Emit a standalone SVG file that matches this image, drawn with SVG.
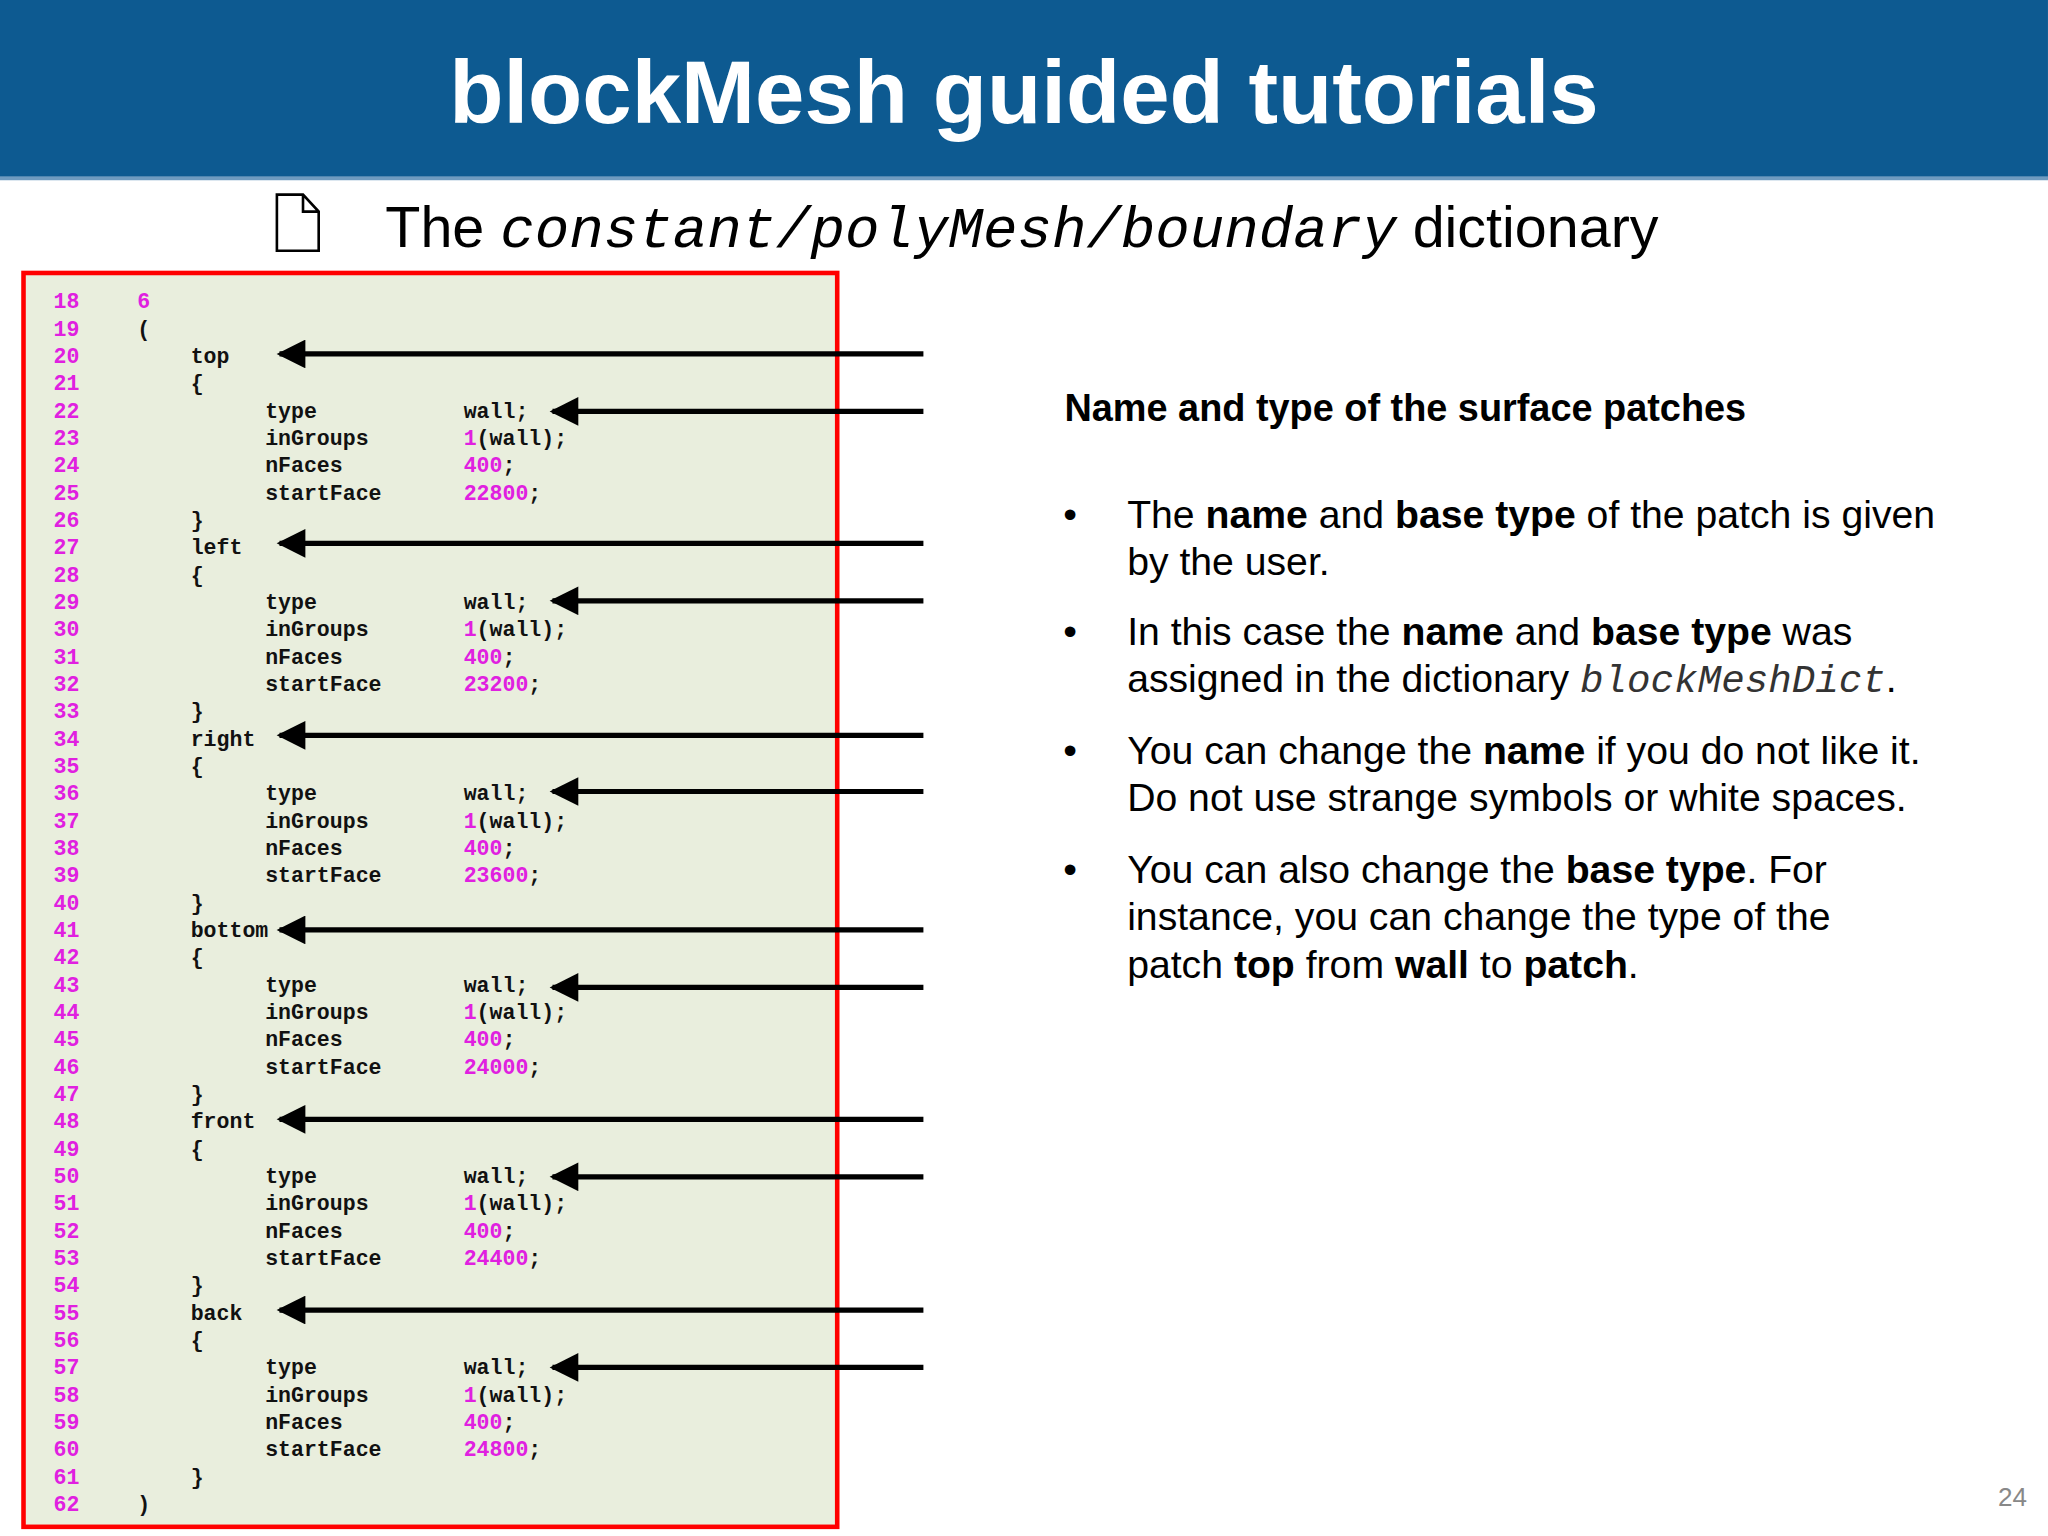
<svg xmlns="http://www.w3.org/2000/svg" width="2048" height="1536" viewBox="0 0 2048 1536">
<defs>
<style>
.c{font-family:"Liberation Mono",monospace;font-weight:bold;font-size:16.5px;fill:#111}
.m{fill:#e020e0}
.t{font-family:"Liberation Sans",Arial,sans-serif;font-size:30px;fill:#000}
.a{stroke:#000;stroke-width:4}
</style>
<marker id="ah" viewBox="0 0 10 10" refX="9" refY="5" markerWidth="6" markerHeight="5.5" orient="auto" markerUnits="strokeWidth"><path d="M0,0 L10,5 L0,10 Z" fill="#000"/></marker>
</defs>
<rect width="2048" height="1536" fill="#fff"/>
<g transform="scale(1.3061)">
<g id="header">
<rect x="0" y="0" width="1568" height="137" fill="#0d5a91"/>
<rect x="0" y="135" width="1568" height="3" fill="#6f9bc0"/>
<text x="784" y="94" text-anchor="middle" font-family="Liberation Sans,Arial,sans-serif" font-weight="bold" font-size="68" fill="#fff">blockMesh guided tutorials</text>
</g>
<g id="subtitle">
<path d="M212,149 H232 L244,162 V192 H212 Z M232,149 V162 H244" fill="none" stroke="#000" stroke-width="2"/>
<text y="189" font-size="44" font-family="Liberation Sans,Arial,sans-serif"><tspan x="295">The </tspan><tspan font-family="Liberation Mono,monospace" font-style="italic">constant/polyMesh/boundary</tspan><tspan> dictionary</tspan></text>
</g>
<g id="code">
<rect x="18" y="209" width="623" height="960" fill="#e9eedd" stroke="#f00" stroke-width="3.5"/>
<text class="c m" y="236"><tspan x="41">18</tspan><tspan x="41" dy="20.93">19</tspan><tspan x="41" dy="20.93">20</tspan><tspan x="41" dy="20.93">21</tspan><tspan x="41" dy="20.93">22</tspan><tspan x="41" dy="20.93">23</tspan><tspan x="41" dy="20.93">24</tspan><tspan x="41" dy="20.93">25</tspan><tspan x="41" dy="20.93">26</tspan><tspan x="41" dy="20.93">27</tspan><tspan x="41" dy="20.93">28</tspan><tspan x="41" dy="20.93">29</tspan><tspan x="41" dy="20.93">30</tspan><tspan x="41" dy="20.93">31</tspan><tspan x="41" dy="20.93">32</tspan><tspan x="41" dy="20.93">33</tspan><tspan x="41" dy="20.93">34</tspan><tspan x="41" dy="20.93">35</tspan><tspan x="41" dy="20.93">36</tspan><tspan x="41" dy="20.93">37</tspan><tspan x="41" dy="20.93">38</tspan><tspan x="41" dy="20.93">39</tspan><tspan x="41" dy="20.93">40</tspan><tspan x="41" dy="20.93">41</tspan><tspan x="41" dy="20.93">42</tspan><tspan x="41" dy="20.93">43</tspan><tspan x="41" dy="20.93">44</tspan><tspan x="41" dy="20.93">45</tspan><tspan x="41" dy="20.93">46</tspan><tspan x="41" dy="20.93">47</tspan><tspan x="41" dy="20.93">48</tspan><tspan x="41" dy="20.93">49</tspan><tspan x="41" dy="20.93">50</tspan><tspan x="41" dy="20.93">51</tspan><tspan x="41" dy="20.93">52</tspan><tspan x="41" dy="20.93">53</tspan><tspan x="41" dy="20.93">54</tspan><tspan x="41" dy="20.93">55</tspan><tspan x="41" dy="20.93">56</tspan><tspan x="41" dy="20.93">57</tspan><tspan x="41" dy="20.93">58</tspan><tspan x="41" dy="20.93">59</tspan><tspan x="41" dy="20.93">60</tspan><tspan x="41" dy="20.93">61</tspan><tspan x="41" dy="20.93">62</tspan></text>
<text class="c m" x="105" y="236">6</text>
<text class="c" x="105" y="256.9">(</text>
<text class="c" x="105" y="1156.9">)</text>
<g class="c">
<text x="146" y="277.9">top</text><text x="146" y="298.8">{</text>
<text x="203" y="319.7">type</text><text x="355" y="319.7">wall;</text>
<text x="203" y="340.7">inGroups</text><text x="355" y="340.7"><tspan class="m">1</tspan>(wall);</text>
<text x="203" y="361.6">nFaces</text><text x="355" y="361.6"><tspan class="m">400</tspan>;</text>
<text x="203" y="382.5">startFace</text><text x="355" y="382.5"><tspan class="m">22800</tspan>;</text>
<text x="146" y="403.4">}</text>
<text x="146" y="424.4">left</text><text x="146" y="445.3">{</text>
<text x="203" y="466.2">type</text><text x="355" y="466.2">wall;</text>
<text x="203" y="487.2">inGroups</text><text x="355" y="487.2"><tspan class="m">1</tspan>(wall);</text>
<text x="203" y="508.1">nFaces</text><text x="355" y="508.1"><tspan class="m">400</tspan>;</text>
<text x="203" y="529">startFace</text><text x="355" y="529"><tspan class="m">23200</tspan>;</text>
<text x="146" y="550">}</text>
<text x="146" y="570.9">right</text><text x="146" y="591.8">{</text>
<text x="203" y="612.7">type</text><text x="355" y="612.7">wall;</text>
<text x="203" y="633.7">inGroups</text><text x="355" y="633.7"><tspan class="m">1</tspan>(wall);</text>
<text x="203" y="654.6">nFaces</text><text x="355" y="654.6"><tspan class="m">400</tspan>;</text>
<text x="203" y="675.5">startFace</text><text x="355" y="675.5"><tspan class="m">23600</tspan>;</text>
<text x="146" y="696.5">}</text>
<text x="146" y="717.4">bottom</text><text x="146" y="738.3">{</text>
<text x="203" y="759.3">type</text><text x="355" y="759.3">wall;</text>
<text x="203" y="780.2">inGroups</text><text x="355" y="780.2"><tspan class="m">1</tspan>(wall);</text>
<text x="203" y="801.1">nFaces</text><text x="355" y="801.1"><tspan class="m">400</tspan>;</text>
<text x="203" y="822">startFace</text><text x="355" y="822"><tspan class="m">24000</tspan>;</text>
<text x="146" y="843">}</text>
<text x="146" y="863.9">front</text><text x="146" y="884.8">{</text>
<text x="203" y="905.8">type</text><text x="355" y="905.8">wall;</text>
<text x="203" y="926.7">inGroups</text><text x="355" y="926.7"><tspan class="m">1</tspan>(wall);</text>
<text x="203" y="947.6">nFaces</text><text x="355" y="947.6"><tspan class="m">400</tspan>;</text>
<text x="203" y="968.6">startFace</text><text x="355" y="968.6"><tspan class="m">24400</tspan>;</text>
<text x="146" y="989.5">}</text>
<text x="146" y="1010.4">back</text><text x="146" y="1031.3">{</text>
<text x="203" y="1052.3">type</text><text x="355" y="1052.3">wall;</text>
<text x="203" y="1073.2">inGroups</text><text x="355" y="1073.2"><tspan class="m">1</tspan>(wall);</text>
<text x="203" y="1094.1">nFaces</text><text x="355" y="1094.1"><tspan class="m">400</tspan>;</text>
<text x="203" y="1115.1">startFace</text><text x="355" y="1115.1"><tspan class="m">24800</tspan>;</text>
<text x="146" y="1136">}</text>
</g>
</g>
<g id="connectors">
<line class="a" x1="707" y1="271" x2="214" y2="271" marker-end="url(#ah)"/>
<line class="a" x1="707" y1="315" x2="423" y2="315" marker-end="url(#ah)"/>
<line class="a" x1="707" y1="416" x2="214" y2="416" marker-end="url(#ah)"/>
<line class="a" x1="707" y1="460" x2="423" y2="460" marker-end="url(#ah)"/>
<line class="a" x1="707" y1="563" x2="214" y2="563" marker-end="url(#ah)"/>
<line class="a" x1="707" y1="606" x2="423" y2="606" marker-end="url(#ah)"/>
<line class="a" x1="707" y1="712" x2="214" y2="712" marker-end="url(#ah)"/>
<line class="a" x1="707" y1="756" x2="423" y2="756" marker-end="url(#ah)"/>
<line class="a" x1="707" y1="857" x2="214" y2="857" marker-end="url(#ah)"/>
<line class="a" x1="707" y1="901" x2="423" y2="901" marker-end="url(#ah)"/>
<line class="a" x1="707" y1="1003" x2="214" y2="1003" marker-end="url(#ah)"/>
<line class="a" x1="707" y1="1047" x2="423" y2="1047" marker-end="url(#ah)"/>
</g>
<g id="notes" class="t">
<text x="815" y="322" font-weight="bold" font-size="29">Name and type of the surface patches</text>
<text x="814" y="404">•</text><text x="814" y="494">•</text><text x="814" y="585">•</text><text x="814" y="676">•</text>
<text x="863" y="404">The <tspan font-weight="bold">name</tspan> and <tspan font-weight="bold">base type</tspan> of the patch is given</text>
<text x="863" y="440">by the user.</text>
<text x="863" y="494">In this case the <tspan font-weight="bold">name</tspan> and <tspan font-weight="bold">base type</tspan> was</text>
<text x="863" y="530">assigned in the dictionary <tspan font-family="Liberation Mono,monospace" font-style="italic" fill="#333">blockMeshDict</tspan>.</text>
<text x="863" y="585">You can change the <tspan font-weight="bold">name</tspan> if you do not like it.</text>
<text x="863" y="621">Do not use strange symbols or white spaces.</text>
<text x="863" y="676">You can also change the <tspan font-weight="bold">base type</tspan>.  For</text>
<text x="863" y="712">instance, you can change the type of the</text>
<text x="863" y="749">patch <tspan font-weight="bold">top</tspan> from <tspan font-weight="bold">wall</tspan> to <tspan font-weight="bold">patch</tspan>.</text>
</g>
<text x="1552" y="1153" text-anchor="end" font-family="Liberation Sans,Arial,sans-serif" font-size="20" fill="#888">24</text>
</g>
</svg>
